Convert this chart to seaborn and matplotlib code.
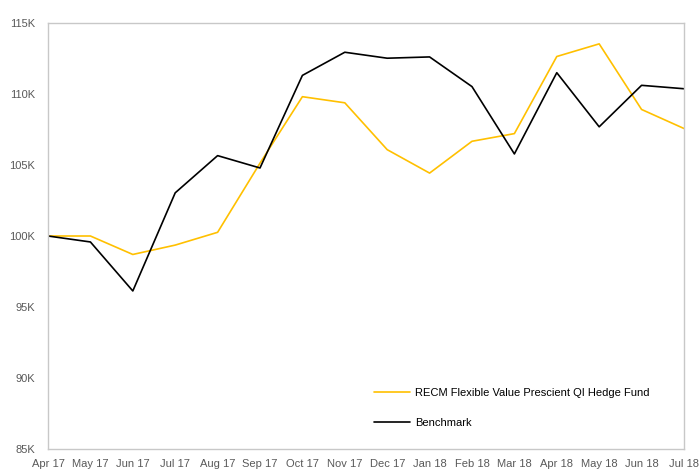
import pandas as pd
import seaborn as sns
import matplotlib.pyplot as plt
from matplotlib.ticker import FuncFormatter

# data (values in thousands)
months = ["Apr 17", "May 17", "Jun 17", "Jul 17", "Aug 17", "Sep 17", "Oct 17", "Nov 17",
          "Dec 17", "Jan 18", "Feb 18", "Mar 18", "Apr 18", "May 18", "Jun 18", "Jul 18"]
fund = [100.0, 100.0, 98.7, 99.36, 100.26, 105.13, 109.81, 109.38,
        106.08, 104.43, 106.67, 107.21, 112.64, 113.53, 108.91, 107.57]
benchmark = [100.0, 99.58, 96.13, 103.04, 105.66, 104.79, 111.31, 112.94,
             112.52, 112.61, 110.52, 105.78, 111.5, 107.69, 110.61, 110.37]
fund_name = "RECM Flexible Value Prescient QI Hedge Fund"
bench_name = "Benchmark"

df = pd.DataFrame({"month": months * 2,
                   "value": [v * 1000 for v in fund + benchmark],
                   "series": [fund_name] * len(months) + [bench_name] * len(months)})

sns.set_style("white")
plt.rcParams["font.family"] = ["Liberation Sans", "DejaVu Sans"]

fig = plt.figure(figsize=(6.99, 4.73), dpi=100)
ax = fig.add_axes([0.0687, 0.0507, 0.9098, 0.9007])

sns.lineplot(data=df, x="month", y="value", hue="series",
             palette={fund_name: "#FFC000", bench_name: "black"},
             linewidth=1.2, ax=ax, sort=False)

ax.set_ylim(85000, 115000)
ax.set_xlim(0, len(months) - 1)
ax.set_yticks(range(85000, 115001, 5000))
ax.yaxis.set_major_formatter(FuncFormatter(lambda v, p: f"{int(v / 1000)}K"))
ax.set_xlabel("")
ax.set_ylabel("")
ax.tick_params(length=0, labelsize=8, colors="#595959")
ax.tick_params(axis="y", pad=9.5)
ax.tick_params(axis="x", pad=7)

for s in ax.spines.values():
    s.set_color("#C8C8C8")
    s.set_linewidth(1.0)

leg = ax.legend(loc="center left", bbox_to_anchor=(0.506, 0.097), borderaxespad=0,
                frameon=False, fontsize=8, handlelength=3.2, labelspacing=1.8,
                handletextpad=0.45)
for t in leg.get_texts():
    t.set_color("black")

fig.savefig("out.png", dpi=100)
